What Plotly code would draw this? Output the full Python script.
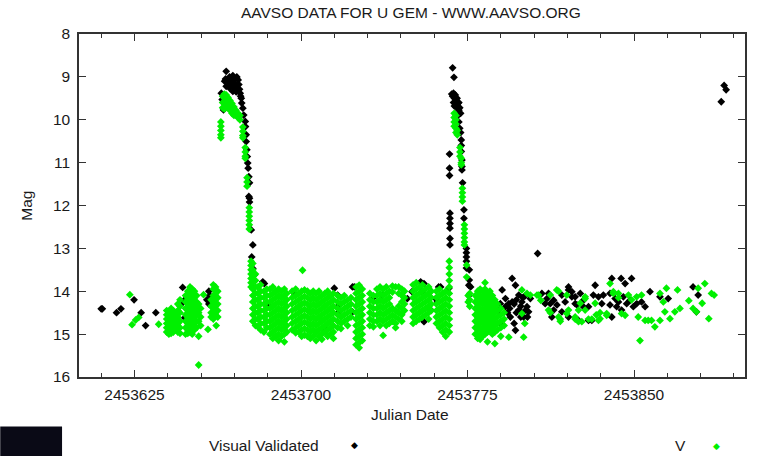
import plotly.graph_objects as go

JD_BASE = 2453600  # every day value below is JD - JD_BASE

# ---------------- V (green) : (day, [magnitudes observed that night]) ----------------
v_quiet_early = [
    (22.9, [14.08]), (23.9, [14.78]), (25.5, [14.67]), (26.9, [14.61]), (35.9, [14.77]),
    (39.5, [14.45, 14.55, 14.65, 14.75, 14.85, 14.95]),
    (40.5, [14.5, 14.6, 14.7, 14.8, 14.9, 15.0]),
    (41.5, [14.4, 14.55, 14.65, 14.75, 14.9, 14.98]),
    (42.5, [14.45, 14.6, 14.7, 14.85, 14.95]),
    (43.5, [14.5, 14.65, 14.8, 14.9]),
    (44.5, [14.3, 14.45, 14.6, 14.75, 14.95]),
    (45.5, [14.2, 14.35, 14.5, 14.7, 14.85, 14.98]),
    (48.0, [14.1, 14.25, 14.4, 14.55, 14.7, 14.85, 15.0]),
    (49.0, [14.0, 14.15, 14.3, 14.45, 14.6, 14.75, 14.9, 14.98]),
    (50.0, [13.9, 14.05, 14.2, 14.35, 14.5, 14.65, 14.8, 14.95]),
    (51.0, [13.95, 14.1, 14.25, 14.4, 14.55, 14.7, 14.85, 15.0]),
    (52.0, [14.0, 14.15, 14.3, 14.45, 14.6, 14.75, 14.9]),
    (53.0, [14.1, 14.25, 14.4, 14.55, 14.7, 14.85]),
    (53.9, [14.3, 14.5, 14.7, 15.05, 15.72]),
    (54.8, [14.4, 14.6, 14.8]),
    (56.1, [14.08]), (58.1, [14.89]),
    (59.5, [14.2, 14.35, 14.5, 14.6]),
    (60.5, [13.85, 13.95, 14.1, 14.25, 14.4, 14.55, 14.65]),
    (61.5, [13.9, 14.05, 14.2, 14.35, 14.5]),
    (61.8, [14.8]),
    (62.5, [14.0, 14.15, 14.3, 14.45, 14.6]),
]

v_outburst1 = [
    (63.9, [10.05, 10.15, 10.25, 10.35, 10.42]),
    (64.7, [9.45, 9.6, 9.72]),
    (65.5, [9.4, 9.5, 9.62, 9.75]),
    (66.3, [9.42, 9.55, 9.68]),
    (67.1, [9.48, 9.6, 9.72]),
    (68.0, [9.55, 9.67, 9.78]),
    (68.9, [9.62, 9.75, 9.85]),
    (69.8, [9.7, 9.82, 9.9]),
    (70.7, [9.78, 9.9]),
    (71.6, [9.85, 9.95]),
    (72.5, [9.9, 10.0]),
    (73.8, [10.17, 10.27, 10.37, 10.42]),
    (74.9, [10.65, 10.75, 10.85, 10.9]),
    (75.7, [11.35, 11.45, 11.55]),
    (76.7, [12.05, 12.15, 12.25, 12.35, 12.45, 12.55]),
    (77.5, [13.3, 13.4, 13.5, 13.6, 13.7, 13.8, 13.9]),
]

v_plateau = [
    (78.3, [13.35, 13.5, 13.65, 13.8, 13.95, 14.1, 14.25, 14.4, 14.55, 14.7]),
    (79.5, [13.6, 13.75, 13.9, 14.05, 14.2, 14.35, 14.5, 14.65, 14.8]),
    (80.6, [13.9, 14.05, 14.2, 14.35, 14.5, 14.65, 14.83]),
    (81.8, [13.85, 14.0, 14.15, 14.3, 14.45, 14.6, 14.75, 14.9]),
    (83.3, [14.0, 14.15, 14.3, 14.45, 14.6, 14.75, 14.95]),
    (84.6, [13.95, 14.1, 14.25, 14.4, 14.55, 14.7, 14.85]),
    (86.0, [13.95, 14.1, 14.25, 14.4, 14.55, 14.7, 14.85, 15.0]),
    (87.3, [13.9, 14.05, 14.2, 14.35, 14.5, 14.65, 14.8, 14.95, 15.1]),
    (88.6, [14.0, 14.15, 14.3, 14.45, 14.6, 14.75, 14.9, 15.05]),
    (89.9, [13.95, 14.1, 14.25, 14.4, 14.55, 14.7, 14.85, 15.0, 15.15]),
    (91.2, [14.0, 14.15, 14.3, 14.45, 14.6, 14.75, 14.9, 15.05]),
    (92.5, [13.95, 14.1, 14.25, 14.4, 14.55, 14.7, 14.85, 15.0, 15.18]),
    (93.6, [14.05, 14.2, 14.35, 14.5, 14.65, 14.8, 14.95]),
    (96.0, [14.0, 14.15, 14.3, 14.45, 14.6, 14.75, 14.9]),
    (97.6, [13.95, 14.1, 14.25, 14.4, 14.55, 14.7, 14.85, 14.97]),
    (99.0, [14.05, 14.2, 14.35, 14.5, 14.65, 14.8, 14.95]),
    (100.7, [13.51]),
    (100.3, [14.0, 14.15, 14.3, 14.45, 14.6, 14.75, 14.9, 15.05]),
    (101.6, [13.97, 14.12, 14.27, 14.42, 14.57, 14.72, 14.87, 15.02]),
    (102.9, [14.0, 14.15, 14.3, 14.45, 14.6, 14.75, 14.9, 15.05]),
    (104.2, [14.05, 14.2, 14.35, 14.5, 14.65, 14.8, 14.95, 15.1]),
    (105.5, [14.0, 14.15, 14.3, 14.45, 14.6, 14.75, 14.9, 15.05]),
    (106.8, [14.05, 14.2, 14.35, 14.5, 14.65, 14.8, 14.95, 15.15]),
    (108.1, [14.0, 14.15, 14.3, 14.45, 14.6, 14.75, 14.9, 15.05]),
    (109.4, [14.1, 14.25, 14.4, 14.55, 14.7, 14.85, 15.0, 15.12]),
    (110.7, [14.05, 14.2, 14.35, 14.5, 14.65, 14.8, 14.95]),
    (112.0, [14.0, 14.15, 14.3, 14.45, 14.6, 14.75, 14.9, 15.05]),
    (113.3, [14.1, 14.25, 14.4, 14.55, 14.7, 14.85, 15.0]),
    (114.6, [14.05, 14.2, 14.35, 14.5, 14.65, 14.8, 14.95, 15.1]),
    (116.5, [14.1, 14.25, 14.4, 14.55, 14.7, 14.85]),
    (118.0, [14.15, 14.3, 14.45, 14.6, 14.75, 14.87]),
    (119.5, [14.1, 14.25, 14.4, 14.55, 14.7]),
    (121.0, [14.2, 14.35, 14.5, 14.65, 14.8]),
    (122.5, [14.15, 14.3, 14.45, 14.6]),
    (124.8, [13.9, 14.05, 14.2, 14.35, 14.5, 14.65, 14.8, 14.95, 15.1, 15.25]),
    (126.2, [13.86, 14.0, 14.15, 14.3, 14.45, 14.6, 14.75, 14.9, 15.05, 15.2, 15.32]),
    (127.6, [13.95, 14.1, 14.25, 14.4, 14.55, 14.7, 14.85, 15.0, 15.15]),
    (131.0, [14.05, 14.2, 14.35, 14.5, 14.65, 14.8]),
    (132.6, [14.1, 14.25, 14.4, 14.55, 14.7, 14.83]),
    (134.2, [13.95, 14.1, 14.25, 14.4, 14.55, 14.7]),
    (135.6, [13.9, 14.05, 14.2, 14.35, 14.5, 14.65, 14.8]),
    (137.0, [13.95, 14.1, 14.25, 14.4, 14.55, 14.7, 15.03]),
    (138.4, [13.9, 14.05, 14.2, 14.35, 14.5, 14.65, 14.8]),
    (139.8, [14.0, 14.15, 14.3, 14.45, 14.6, 14.75]),
    (141.2, [13.88, 14.02, 14.4, 14.55, 14.7]),
    (142.6, [13.9, 14.45, 14.6, 14.75, 14.85]),
    (144.0, [13.9, 14.05, 14.35, 14.5, 14.65]),
    (145.4, [13.95, 14.1, 14.25, 14.4, 14.55, 14.7]),
    (146.6, [14.0, 14.15, 14.3, 14.45]),
    (150.5, [13.85, 14.0, 14.15, 14.3, 14.45, 14.6, 14.75]),
    (151.9, [13.8, 13.95, 14.1, 14.25, 14.4, 14.55, 14.7]),
    (153.3, [13.9, 14.05, 14.2, 14.35, 14.5, 14.65]),
    (154.7, [13.85, 14.0, 14.15, 14.3, 14.45, 14.6]),
    (156.1, [13.95, 14.1, 14.25, 14.4, 14.55]),
    (157.5, [13.9, 14.05, 14.2, 14.35, 14.5, 14.65]),
    (158.7, [14.0, 14.15, 14.3, 14.45]),
    (161.0, [14.0, 14.15, 14.3, 14.45, 14.6, 14.75]),
    (162.4, [13.95, 14.1, 14.25, 14.4, 14.55, 14.7, 14.85]),
    (163.8, [14.05, 14.2, 14.35, 14.5, 14.65, 14.8, 14.95]),
    (165.2, [14.0, 14.15, 14.3, 14.45, 14.6, 14.75, 14.9, 15.05]),
    (166.8, [13.3, 13.45, 13.6, 13.75, 13.9, 14.05, 14.2, 14.35, 14.5, 14.65, 14.8, 14.95]),
]

v_outburst2 = [
    (169.0, [9.85, 9.95, 10.05, 10.15]),
    (169.8, [9.9, 10.0, 10.1, 10.2, 10.3]),
    (170.4, [10.25, 10.35]),
    (171.6, [10.65, 10.75, 10.85]),
    (172.2, [10.9, 11.0, 11.05]),
    (172.7, [11.6, 11.7, 11.8, 11.9]),
    (173.6, [12.45, 12.55, 12.65, 12.75, 12.85, 12.92]),
    (174.6, [13.39, 13.67]),
    (175.3, [14.1, 14.25]),
]

v_late = [
    (176.0, [14.05, 14.2, 14.35]),
    (178.5, [14.1, 14.25, 14.4, 14.55, 14.7, 14.85, 15.0]),
    (179.6, [14.0, 14.15, 14.3, 14.45, 14.6, 14.75, 14.9, 15.1]),
    (180.7, [13.95, 14.1, 14.25, 14.4, 14.55, 14.7, 14.85, 15.0, 15.12]),
    (181.8, [14.0, 14.15, 14.3, 14.45, 14.6, 14.75, 14.9, 15.05]),
    (182.9, [13.8, 13.95, 14.1, 14.25, 14.4, 14.55, 14.7, 14.85, 15.0]),
    (184.0, [14.05, 14.2, 14.35, 14.5, 14.65, 14.8, 14.95, 15.18]),
    (185.1, [14.0, 14.15, 14.3, 14.45, 14.6, 14.75, 14.9]),
    (186.2, [14.1, 14.25, 14.4, 14.55, 14.7, 14.85, 15.0]),
    (187.3, [14.2, 14.35, 14.5, 14.65, 14.8, 14.95, 15.22]),
    (188.5, [14.3, 14.45, 14.6, 14.75, 14.9]),
    (190.0, [14.4, 14.55, 14.7, 14.85, 15.05]),
    (191.5, [14.5, 14.65, 14.8]),
    (193.6, [15.07]), (199.5, [13.97, 14.52]), (200.3, [15.07]), (200.8, [14.75]),
    (201.8, [14.05]), (203.3, [14.09]), (206.3, [14.09]), (207.0, [14.09]), (208.0, [14.21]),
    (211.5, [14.44]), (212.3, [14.09, 14.5]), (215.2, [13.97]), (216.0, [14.0, 14.6]),
    (216.8, [14.65, 14.7]), (219.7, [14.09, 14.52]), (220.5, [14.44]),
    (223.5, [14.6, 14.65]), (225.0, [14.44, 14.71]), (225.8, [14.28]), (226.5, [14.71]),
    (228.0, [14.13, 14.17, 14.44]), (229.5, [14.65]), (231.0, [14.65]),
    (232.5, [14.28]), (233.0, [14.55]), (234.0, [14.68]), (234.7, [14.5, 14.64]),
    (237.7, [14.52, 14.56]), (239.2, [13.82]), (240.7, [14.01, 14.05]),
    (243.0, [14.05, 14.15]), (244.4, [14.52]), (246.0, [14.56]), (247.5, [14.09]),
    (248.9, [14.2]), (251.2, [14.13]), (251.9, [14.6]), (252.7, [15.15]),
    (253.4, [14.09]), (255.0, [14.68]), (256.4, [14.68]), (257.9, [14.68]), (259.4, [14.83]),
    (261.7, [14.05, 14.68]), (263.2, [14.25]), (263.9, [14.48]), (264.6, [13.93]),
    (266.2, [14.64]), (268.4, [14.48]), (269.6, [13.97]), (270.7, [14.4]),
    (274.7, [14.22]), (276.6, [14.4]), (278.1, [14.48]), (278.9, [13.93]),
    (280.7, [14.28]), (281.9, [13.82]), (283.7, [14.64]), (284.9, [14.05]), (286.1, [14.09]),
]

# ---------------- Visual Validated (black) ----------------
vis_quiet_early = [
    (10.0, [14.41]), (10.5, [14.41]), (16.9, [14.5]), (18.9, [14.41]), (24.8, [14.2]),
    (28.0, [14.5]), (30.0, [14.8]), (34.6, [14.5]), (46.1, [14.3]), (46.7, [13.91]),
    (47.6, [14.2, 14.62]), (49.5, [14.3]), (57.6, [14.2]), (58.5, [14.0, 14.3]), (58.9, [14.1, 14.25]),
]

vis_outburst1 = [
    (64.1, [9.38]), (64.5, [9.53]), (65.1, [9.77]), (65.6, [9.1]), (66.0, [9.05]),
    (66.3, [8.87, 9.22]), (67.0, [9.1]), (67.8, [9.0, 9.26]), (68.0, [9.12]), (68.6, [9.18]),
    (69.3, [8.97, 9.34]), (69.8, [9.05, 9.25]), (70.1, [9.15]), (70.8, [9.2, 9.35]),
    (71.1, [9.0]), (71.4, [9.3]), (71.7, [9.07]), (72.0, [9.18]), (72.3, [9.29]), (72.6, [9.38]),
    (72.8, [9.45]), (73.1, [9.5]), (73.3, [9.61]), (73.8, [9.73]), (74.2, [9.89]),
    (74.9, [10.04]), (75.0, [10.16]), (75.3, [10.35, 10.51]), (75.6, [10.7]), (75.8, [10.86]),
    (76.0, [11.01]), (76.2, [11.13]), (76.5, [11.33, 11.79]), (76.8, [11.47, 11.83, 11.92]),
    (77.6, [12.57]), (77.8, [13.2]), (78.3, [12.92, 13.47, 13.93]), (79.0, [13.62]),
]

vis_plateau = [
    (82.8, [13.78]), (83.5, [13.82]), (85.0, [14.32]), (97.0, [14.05]), (111.2, [14.91]),
    (115.0, [13.93]), (116.5, [14.09]), (117.2, [14.32, 14.48]), (123.2, [13.9, 14.48]),
    (124.0, [13.9]), (132.2, [14.17]), (136.7, [14.09]), (147.9, [14.17]), (150.0, [14.01]),
    (153.9, [13.78]), (154.5, [14.01]), (155.4, [13.82, 14.71]), (158.5, [14.44]),
    (160.6, [14.17]), (161.4, [14.25]), (162.0, [13.9]), (162.9, [13.9]), (166.6, [13.93]),
]

vis_outburst2 = [
    (166.9, [10.8, 11.13, 11.3]),
    (167.1, [12.18, 12.3, 12.42, 12.53, 12.77, 12.92]),
    (167.9, [9.4]), (168.3, [8.79, 9.45]), (168.7, [9.38, 9.6]), (168.9, [9.01]),
    (169.1, [9.5, 9.68]), (169.5, [9.42]), (169.9, [9.55, 9.7]), (170.3, [9.5]),
    (170.7, [9.62, 9.9]), (171.1, [9.6, 9.78, 10.05]), (171.5, [9.72, 10.2]), (171.9, [9.85, 10.3]),
    (172.2, [10.47, 10.6, 10.74]), (172.5, [10.94, 11.09, 11.17]), (172.8, [11.47]),
    (173.4, [12.1, 12.3]), (174.5, [13.0, 13.1, 13.2, 13.3, 13.46]), (175.6, [13.86, 14.1]),
]

vis_late = [
    (175.8, [13.5, 13.74]), (176.4, [13.9]),
    (189.1, [14.44]), (189.8, [14.29]), (190.6, [13.97, 14.79]), (192.1, [14.17, 14.36]),
    (193.0, [14.5]), (193.6, [14.29]), (194.0, [14.4]), (194.3, [14.6]), (195.1, [13.7, 14.25]),
    (196.0, [14.3, 14.75]), (196.6, [13.86, 14.91]), (197.0, [14.2, 14.5]), (198.1, [14.09, 14.44]),
    (199.0, [14.35, 14.6]), (199.5, [14.25]), (200.0, [14.15]), (200.3, [14.6]), (201.0, [14.1, 14.45]),
    (201.8, [14.36]), (202.0, [14.6]), (202.5, [14.48]), (203.3, [14.17]), (206.6, [13.12]),
    (208.5, [14.05]), (210.0, [14.29]), (210.8, [14.17]), (211.5, [14.05]), (212.3, [14.29]),
    (213.0, [14.6]), (213.8, [14.21, 14.44]), (215.3, [14.32]), (217.5, [14.09, 14.48]),
    (219.0, [14.25]), (220.5, [13.9, 13.97, 14.6]), (222.0, [14.01, 14.13]), (223.5, [14.13, 14.29]),
    (224.3, [14.32]), (225.0, [14.68]), (225.8, [14.05]), (227.2, [14.21, 14.36]), (229.5, [14.36, 14.68]),
    (231.0, [14.68]), (231.7, [14.09]), (232.5, [13.86]), (234.0, [14.13]), (235.5, [14.29]), (236.2, [14.09]),
    (239.2, [14.05, 14.32]), (240.0, [13.7, 14.6]), (241.5, [14.17]), (242.2, [14.36]), (243.0, [14.25]),
    (244.2, [13.7]), (244.4, [14.44]), (245.2, [14.13]), (246.0, [13.82]), (246.7, [14.29]),
    (248.2, [14.21]), (248.9, [13.7]), (249.7, [14.36]), (251.2, [14.29]), (253.4, [14.25]),
    (255.0, [14.36]), (257.2, [14.01]), (261.7, [14.13]), (265.4, [14.17]),
    (276.6, [13.9]), (278.1, [14.48]), (278.9, [14.09]),
    (289.3, [9.58]), (290.6, [9.2]), (291.5, [9.3]),
]

x_major_ticks = [2453625, 2453700, 2453775, 2453850]
y_ticks = [8, 9, 10, 11, 12, 13, 14, 15, 16]

TITLE = "AAVSO DATA FOR U GEM - WWW.AAVSO.ORG"
XTITLE = "Julian Date"
YTITLE = "Mag"
SERIES_NAMES = ["Visual Validated", "V"]


def flatten(*groups):
    xs, ys = [], []
    for group in groups:
        for day, mags in group:
            for m in mags:
                xs.append(JD_BASE + day)
                ys.append(m)
    return xs, ys


vis_x, vis_y = flatten(vis_quiet_early, vis_outburst1, vis_plateau, vis_outburst2, vis_late)
v_x, v_y = flatten(v_quiet_early, v_outburst1, v_plateau, v_outburst2, v_late)

BLACK = "#000000"
GREEN = "#00f000"
FONT = "Liberation Sans, Arial, Helvetica, sans-serif"
AX = "#333333"
FS = 15.5
MS = 6

fig = go.Figure()
fig.add_trace(go.Scatter(x=vis_x, y=vis_y, mode="markers", name=SERIES_NAMES[0],
                         marker=dict(symbol="diamond", size=MS, color=BLACK, line=dict(width=0))))
fig.add_trace(go.Scatter(x=v_x, y=v_y, mode="markers", name=SERIES_NAMES[1],
                         marker=dict(symbol="diamond", size=MS, color=GREEN, line=dict(width=0))))

W, H = 757, 456
L, R, T, B = 79, 10, 34, 79
pw, ph = W - L - R, H - T - B


def px(xp):
    return (xp - L) / pw


def py(yp):
    return (H - B - yp) / ph


fig.update_layout(
    width=W, height=H,
    margin=dict(l=L, r=R, t=T, b=B, pad=0),
    paper_bgcolor="white", plot_bgcolor="white",
    showlegend=False,
    font=dict(family=FONT, size=FS, color="#1a1a1a"),
)

fig.update_xaxes(
    range=[JD_BASE, JD_BASE + 300], tickmode="array", tickvals=x_major_ticks,
    ticktext=[str(v) for v in x_major_ticks],
    ticks="inside", ticklen=7, tickwidth=1, tickcolor=AX,
    showline=True, linecolor=AX, linewidth=1.5, mirror="ticks",
    showgrid=False, zeroline=False, ticklabelstandoff=3,
    minor=dict(ticks="inside", ticklen=4, tickwidth=1, tickcolor=AX, tick0=JD_BASE + 10, dtick=15, showgrid=False),
    tickfont=dict(size=FS),
)
fig.update_yaxes(
    range=[16, 8], tickmode="array", tickvals=y_ticks, ticktext=[str(v) for v in y_ticks],
    ticks="inside", ticklen=7, tickwidth=1, tickcolor=AX,
    showline=True, linecolor=AX, linewidth=1.5, mirror="ticks",
    showgrid=False, zeroline=False, tickfont=dict(size=FS), ticklabelstandoff=4,
)

ann = [
    dict(text=TITLE, x=px(412), y=py(12), xanchor="center", yanchor="middle"),
    dict(text=YTITLE, x=px(26), y=0.5, xanchor="center", yanchor="middle", textangle=-90),
    dict(text=XTITLE, x=px(411), y=py(414), xanchor="center", yanchor="middle"),
    dict(text=SERIES_NAMES[0], x=px(322), y=py(445), xanchor="right", yanchor="middle"),
    dict(text=SERIES_NAMES[1], x=px(682), y=py(445), xanchor="center", yanchor="middle"),
    dict(text="◆", x=px(355), y=py(445), xanchor="center", yanchor="middle",
         font=dict(family="DejaVu Sans", size=9, color=BLACK)),
    dict(text="◆", x=px(718), y=py(446), xanchor="center", yanchor="middle",
         font=dict(family="DejaVu Sans", size=9, color=GREEN)),
]
for a in ann:
    a.setdefault("xref", "paper")
    a.setdefault("yref", "paper")
    a.setdefault("showarrow", False)
    fig.add_annotation(**a)

fig.add_shape(type="rect", xref="paper", yref="paper",
              x0=px(0), x1=px(62), y0=py(456), y1=py(426.5),
              fillcolor="#0a0a16", line=dict(width=0), layer="above")

fig.write_html("out.html", config={"displayModeBar": False},
               post_script="document.body.style.margin='0';document.body.style.overflow='hidden';")
